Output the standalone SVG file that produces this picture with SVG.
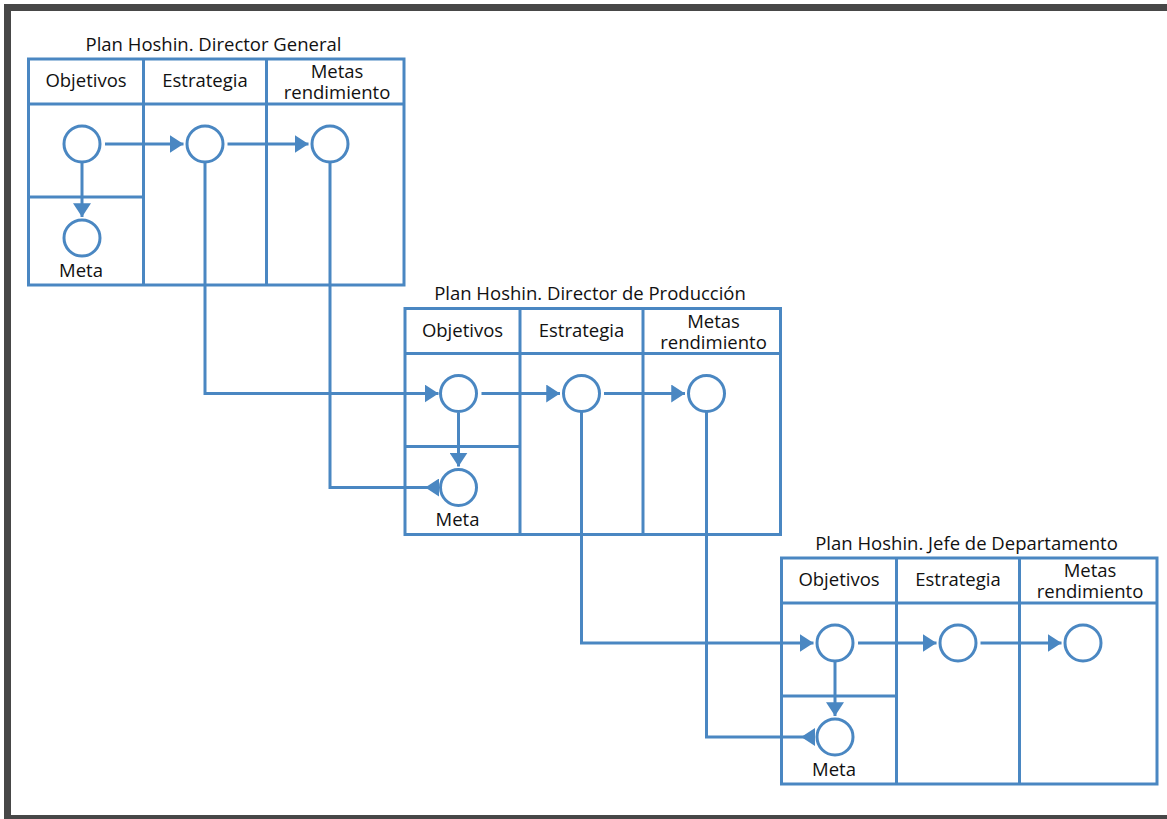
<svg xmlns="http://www.w3.org/2000/svg" width="1167" height="819" viewBox="0 0 1167 819">
<style>
.ln{fill:none;stroke:#4a87c2;stroke-width:3}
.c{fill:#fff;stroke:#4a87c2;stroke-width:3}
.t{font-family:"Open Sans","Liberation Sans",sans-serif;font-size:18.5px;fill:#111;text-anchor:middle}
</style>
<defs>
<marker id="head" markerUnits="userSpaceOnUse" markerWidth="14" markerHeight="18" refX="13" refY="8.5" orient="auto" viewBox="0 0 13 17"><path d="M0,0 L13,8.5 L0,17 z" fill="#4a87c2"/></marker>
<marker id="tail" markerUnits="userSpaceOnUse" markerWidth="14" markerHeight="18" refX="0" refY="8.5" orient="auto" viewBox="0 0 13 17"><path d="M0,0 L13,8.5 L0,17 z" fill="#4a87c2"/></marker>
<g id="plan">
<rect class="ln" x="0" y="0" width="375.5" height="226"/>
<line class="ln" x1="115" y1="0" x2="115" y2="226"/>
<line class="ln" x1="238" y1="0" x2="238" y2="226"/>
<line class="ln" x1="0" y1="45" x2="375.5" y2="45"/>
<line class="ln" x1="0" y1="138" x2="115" y2="138"/>
<circle class="c" cx="53.5" cy="85" r="18"/>
<circle class="c" cx="176.5" cy="85" r="18"/>
<circle class="c" cx="301.5" cy="85" r="18"/>
<circle class="c" cx="53.5" cy="179" r="18"/>
<path class="ln" d="M76.5,85 H155" marker-end="url(#head)"/>
<path class="ln" d="M199,85 H280" marker-end="url(#head)"/>
<path class="ln" d="M53.5,104 V158" marker-end="url(#head)"/>
<text class="t" x="57.5" y="28">Objetivos</text>
<text class="t" x="176.5" y="28">Estrategia</text>
<text class="t" x="308.5" y="19">Metas</text>
<text class="t" x="308.5" y="40">rendimiento</text>
<text class="t" x="52.5" y="217.5">Meta</text>
</g>
</defs>
<rect x="7.5" y="7.5" width="1170" height="811" fill="none" stroke="#474747" stroke-width="7"/>
<g id="plan-director-general" transform="translate(28.5,59)">
<use href="#plan"/>
<text class="t" x="185" y="-8.3">Plan Hoshin. Director General</text>
</g>
<g id="plan-director-produccion" transform="translate(405,308.5)">
<use href="#plan"/>
<text class="t" x="185" y="-8.3">Plan Hoshin. Director de Producción</text>
</g>
<g id="plan-jefe-departamento" transform="translate(781.5,558)">
<use href="#plan"/>
<text class="t" x="185" y="-8.3">Plan Hoshin. Jefe de Departamento</text>
</g>
<g id="connectors">
<path class="ln" d="M205,162 V393.5 H438.5" marker-end="url(#head)"/>
<path class="ln" d="M439,487.5 H330 V162" marker-start="url(#tail)"/>
<path class="ln" d="M581.5,411.5 V643 H813.5" marker-end="url(#head)"/>
<path class="ln" d="M815,737 H706.5 V411.5" marker-start="url(#tail)"/>
</g>
</svg>
